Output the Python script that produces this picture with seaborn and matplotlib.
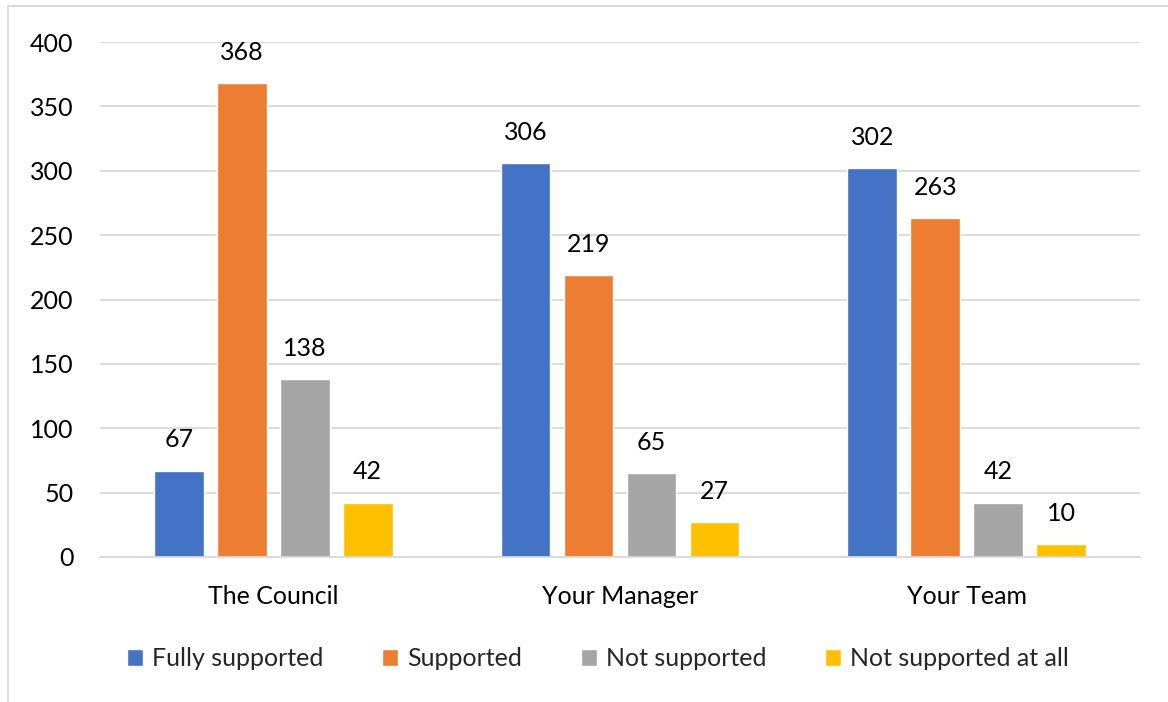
import matplotlib
matplotlib.use("Agg")
import matplotlib.pyplot as plt
from matplotlib.patches import Rectangle
import pandas as pd
import seaborn as sns

categories = ["The Council", "Your Manager", "Your Team"]
series = ["Fully supported", "Supported", "Not supported", "Not supported at all"]
fully_supported = [67, 306, 302]
supported = [368, 219, 263]
not_supported = [138, 65, 42]
not_supported_at_all = [42, 27, 10]
colors = ["#4472C4", "#ED7D31", "#A5A5A5", "#FFC000"]

rows = []
for name, vals in zip(series, [fully_supported, supported, not_supported, not_supported_at_all]):
    for cat, v in zip(categories, vals):
        rows.append({"category": cat, "series": name, "value": v})
df = pd.DataFrame(rows)

sns.set_theme(style="white")
plt.rcParams["font.family"] = ["Lato", "DejaVu Sans"]

FS = 18
fig = plt.figure(figsize=(11.68, 7.02), dpi=100)
W, H = 1168, 702
ax = fig.add_axes([100 / W, 1 - 557 / H, 1040 / W, 515 / H])

sns.barplot(data=df, x="category", y="value", hue="series", order=categories,
            hue_order=series, palette=colors, width=0.726, gap=0.21,
            saturation=1, ax=ax, legend=True)

ax.set_ylim(0, 400)
ax.set_xlim(-0.5, 2.5)
ax.set_yticks(range(0, 401, 50))
ax.yaxis.grid(True, color="#D9D9D9", linewidth=1.3)
ax.set_axisbelow(True)
for s in ["top", "right", "left"]:
    ax.spines[s].set_visible(False)
ax.spines["bottom"].set_color("#D9D9D9")
ax.spines["bottom"].set_linewidth(1.3)
ax.tick_params(axis="y", length=0, pad=19, labelsize=FS, labelcolor="black")
ax.tick_params(axis="x", length=0, pad=20, labelsize=FS, labelcolor="black")
ax.set_xlabel("")
ax.set_ylabel("")

for cont in ax.containers:
    ax.bar_label(cont, fmt="%d", padding=14, fontsize=FS, color="black")

handles, labels = ax.get_legend_handles_labels()
ax.get_legend().remove()
fig.legend(handles, labels, loc="center", bbox_to_anchor=(598 / W, 1 - 659 / H),
           ncol=4, frameon=False, fontsize=FS, handlelength=0.64, handleheight=0.64,
           handletextpad=0.36, columnspacing=2.36)

# chart frame
fig.patches.append(Rectangle((8 / W, -0.1), 1.2, 1 - 6 / H + 0.1,
                             transform=fig.transFigure, fill=False,
                             edgecolor="#D9D9D9", linewidth=1.3))

fig.savefig("out.png", dpi=100)
